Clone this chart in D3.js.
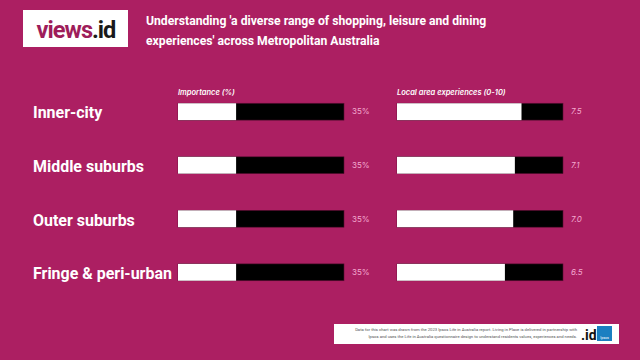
<!DOCTYPE html>
<html><head><meta charset="utf-8">
<script src="https://cdn.jsdelivr.net/npm/d3@7"></script>
<style>html,body{margin:0;padding:0;background:#ac1f62;}svg{display:block;}</style>
</head><body>
<script>
const categories = ["Inner-city", "Middle suburbs", "Outer suburbs", "Fringe & peri-urban"];
const importance = [35, 35, 35, 35];
const experience = [7.5, 7.1, 7.0, 6.5];
const importanceLabels = ["35%", "35%", "35%", "35%"];
const experienceLabels = ["7.5", "7.1", "7.0", "6.5"];

const W = 640, H = 360, bg = "#ac1f62";
const svg = d3.select("body").append("svg").attr("width", W).attr("height", H);
svg.append("rect").attr("width", W).attr("height", H).attr("fill", bg);

function fit(sel, target) {
  const n = sel.node();
  const fs = parseFloat(sel.attr("font-size"));
  const w = n.getComputedTextLength ? n.getComputedTextLength() : n.getBBox().width;
  if (w > 0) sel.attr("font-size", fs * target / w);
}

// logo
svg.append("rect").attr("x", 23).attr("y", 10).attr("width", 105).attr("height", 37).attr("fill", "#fff");
const logo = svg.append("text").attr("x", 76).attr("y", 38).attr("text-anchor", "middle")
  .attr("font-family", "Roboto, 'Open Sans', sans-serif").attr("font-weight", 700).attr("font-size", 24).attr("letter-spacing", -1);
logo.append("tspan").attr("fill", "#9e1d5a").text("views");
logo.append("tspan").attr("fill", "#1a1a1a").text(".id");
fit(logo, 79);

// title
const t1 = svg.append("text").attr("x", 146).attr("y", 25).attr("font-family", "Roboto, sans-serif").attr("font-weight", 700)
  .attr("font-size", 13.2).attr("fill", "#fff").text("Understanding 'a diverse range of shopping, leisure and dining");
fit(t1, 340);
svg.append("text").attr("x", 146).attr("y", 45).attr("font-family", "Roboto, sans-serif").attr("font-weight", 700)
  .attr("font-size", t1.attr("font-size")).attr("fill", "#fff").text("experiences' across Metropolitan Australia");

// scales
const y = d3.scaleBand().domain(categories).range([76.5, 307.5]).paddingInner(0.685).paddingOuter(0.5);
const x1 = d3.scaleLinear().domain([0, 100]).range([178, 344]);
const x2 = d3.scaleLinear().domain([0, 10]).range([397, 563]);

// headers
svg.append("text").attr("x", 178).attr("y", 95).attr("fill", "#fff").attr("font-family", "Inter, Roboto, sans-serif")
  .attr("font-style", "italic").attr("font-weight", 600).attr("font-size", 7.5).text("Importance (%)");
svg.append("text").attr("x", 397).attr("y", 95).attr("fill", "#fff").attr("font-family", "Inter, Roboto, sans-serif")
  .attr("font-style", "italic").attr("font-weight", 600).attr("font-size", 7.5).text("Local area experiences (0-10)");

const rows = svg.selectAll("g.row").data(categories).join("g").attr("class", "row");

const labels = rows.append("text").attr("x", 33).attr("y", d => y(d) + y.bandwidth() / 2 + 1).attr("dy", "0.36em")
  .attr("fill", "#fff").attr("font-family", "Roboto, sans-serif").attr("font-weight", 700).attr("font-size", 14.5)
  .text(d => d);
// scale label size so the longest label spans the measured width
{
  const longest = labels.filter(d => d === "Fringe & peri-urban");
  const w = longest.node().getComputedTextLength();
  if (w > 0) labels.attr("font-size", 14.5 * 139 / w);
}

function drawBars(x, vals, labels, max, italic) {
  rows.append("rect").attr("x", x(0)).attr("y", d => y(d)).attr("width", x(max) - x(0)).attr("height", y.bandwidth())
    .attr("fill", "#000").attr("stroke", "#5a0e33").attr("stroke-width", 0.6);
  rows.append("rect").attr("x", x(0)).attr("y", d => y(d)).attr("width", (d, i) => x(vals[i]) - x(0)).attr("height", y.bandwidth())
    .attr("fill", "#fff");
  rows.append("text").attr("x", x(max) + 8).attr("y", d => y(d) + y.bandwidth() / 2).attr("dy", "0.35em")
    .attr("fill", "#f3a9d0").attr("font-family", "Inter, Roboto, sans-serif").attr("font-style", italic ? "italic" : "normal").attr("font-size", 8)
    .text((d, i) => labels[i]);
}
drawBars(x1, importance, importanceLabels, 100, false);
drawBars(x2, experience, experienceLabels, 10, true);

// footer
svg.append("rect").attr("x", 334).attr("y", 324).attr("width", 285).attr("height", 20).attr("fill", "#fff");
const ft = svg.append("text").attr("font-family", "Roboto, sans-serif").attr("font-size", 4.2).attr("fill", "#555").attr("text-anchor", "end");
ft.append("tspan").attr("x", 577).attr("y", 331).text("Data for this chart was drawn from the 2023 Ipsos Life in Australia report. Living in Place is delivered in partnership with");
ft.append("tspan").attr("x", 577).attr("y", 338).text("Ipsos and uses the Life in Australia questionnaire design to understand residents values, experiences and needs.");
svg.append("text").attr("x", 581).attr("y", 340).attr("font-family", "Roboto, sans-serif").attr("font-weight", 700)
  .attr("font-size", 14).attr("fill", "#111").text(".id");
svg.append("rect").attr("x", 597).attr("y", 326).attr("width", 15).attr("height", 15).attr("fill", "#1b7fc1");
svg.append("text").attr("x", 604.5).attr("y", 339).attr("text-anchor", "middle").attr("font-family", "Roboto, sans-serif")
  .attr("font-size", 3.5).attr("fill", "#fff").text("Ipsos");
</script>
</body></html>
